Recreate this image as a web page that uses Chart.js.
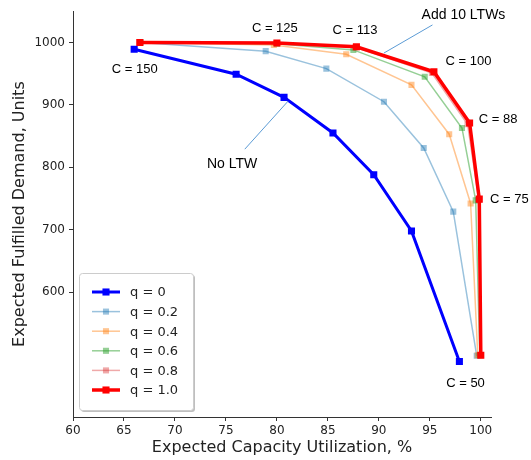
<!DOCTYPE html>
<html>
<head>
<meta charset="utf-8">
<script src="https://cdn.jsdelivr.net/npm/chart.js@4"></script>
<style>
  body { margin: 0; background: #fff; }
  #wrap { width: 531px; height: 460px; }
</style>
</head>
<body>
<div id="wrap"><canvas id="frontier"></canvas></div>
<script>
// Datos
const seriesNames = ['q = 0', 'q = 0.2', 'q = 0.4', 'q = 0.6', 'q = 0.8', 'q = 1.0'];

const q00X = [66, 76, 80.7, 85.5, 89.5, 93.2, 97.9];
const q00Y = [989, 949, 912, 855, 788, 698, 489];
const q02X = [66.6, 78.9, 84.85, 90.5, 94.4, 97.3, 99.6];
const q02Y = [1000, 986, 958, 905, 831, 729, 498];
const q04X = [66.6, 79.7, 86.8, 93.2, 96.9, 99.0, 99.7];
const q04Y = [1000, 996, 981, 932, 853, 742, 499];
const q06X = [66.6, 80, 87.5, 94.5, 98.15, 99.5, 99.9];
const q06Y = [1000, 998, 988, 945, 863, 747, 499];
const q08X = [66.6, 80, 87.7, 95.2, 98.7, 99.8, 100];
const q08Y = [1000, 999, 992, 951, 869, 748, 499];
const q10X = [66.55, 80, 87.8, 95.4, 98.9, 99.85, 100];
const q10Y = [1000, 999, 993, 953, 871, 749, 499];

const xTicks = [60, 65, 70, 75, 80, 85, 90, 95, 100];
const yTicks = [600, 700, 800, 900, 1000];

// Textos de anotacion (en coordenadas de datos)
const notes = [
  { text: 'C = 150', x: 66.06, y: 956, size: 13 },
  { text: 'C = 125', x: 79.8, y: 1022, size: 13 },
  { text: 'C = 113', x: 87.65, y: 1019, size: 13 },
  { text: 'C = 100', x: 98.8, y: 969, size: 13 },
  { text: 'C = 88', x: 101.7, y: 877, size: 13 },
  { text: 'C = 75', x: 102.8, y: 749, size: 13 },
  { text: 'C = 50', x: 98.5, y: 454, size: 13 },
  { text: 'Add 10 LTWs', x: 98.3, y: 1044, size: 14 },
  { text: 'No LTW', x: 75.6, y: 805, size: 14 }
];
const leaders = [
  { x1: 95.26, y1: 1028, x2: 90.5, y2: 983 },
  { x1: 81.1, y1: 906, x2: 76.85, y2: 829 }
];

function pts(xs, ys) {
  return xs.map((x, i) => ({ x: x, y: ys[i] }));
}

function makeSet(i, xs, ys, color, width, radius, order) {
  return {
    label: seriesNames[i],
    data: pts(xs, ys),
    borderColor: color,
    backgroundColor: color,
    borderWidth: width,
    pointStyle: 'rect',
    pointRadius: radius,
    pointBorderWidth: 0,
    pointHoverRadius: radius,
    showLine: true,
    tension: 0,
    order: order
  };
}

// Leyenda dentro del area del grafico
const boxLegend = {
  id: 'boxLegend',
  afterDraw(chart) {
    const ctx = chart.ctx;
    const x0 = 79, y0 = 273, w = 114, h = 137;
    ctx.save();
    ctx.fillStyle = 'rgba(0,0,0,0.25)';
    ctx.beginPath();
    ctx.roundRect(x0 + 2, y0 + 2, w, h, 3);
    ctx.fill();
    ctx.fillStyle = '#fff';
    ctx.strokeStyle = '#cccccc';
    ctx.lineWidth = 1;
    ctx.beginPath();
    ctx.roundRect(x0 + 0.5, y0 + 0.5, w, h, 3);
    ctx.fill();
    ctx.stroke();
    ctx.font = '13px "DejaVu Sans"';
    ctx.textBaseline = 'middle';
    chart.data.datasets.forEach((ds, i) => {
      const y = 292 + i * 19.6;
      ctx.strokeStyle = ds.borderColor;
      ctx.lineWidth = ds.borderWidth;
      ctx.beginPath();
      ctx.moveTo(92, y);
      ctx.lineTo(120, y);
      ctx.stroke();
      const s = ds.pointRadius * Math.SQRT1_2;
      ctx.fillStyle = ds.backgroundColor;
      ctx.fillRect(106 - s, y - s, 2 * s, 2 * s);
      ctx.fillStyle = '#222';
      ctx.fillText(ds.label, 130, y + 1);
    });
    ctx.restore();
  }
};

const notesPlugin = {
  id: 'notesPlugin',
  afterDatasetsDraw(chart) {
    const ctx = chart.ctx;
    const xs = chart.scales.x, ys = chart.scales.y;
    ctx.save();
    ctx.strokeStyle = '#5b9bd5';
    ctx.lineWidth = 1;
    leaders.forEach(l => {
      ctx.beginPath();
      ctx.moveTo(xs.getPixelForValue(l.x1), ys.getPixelForValue(l.y1));
      ctx.lineTo(xs.getPixelForValue(l.x2), ys.getPixelForValue(l.y2));
      ctx.stroke();
    });
    ctx.fillStyle = '#000';
    ctx.textAlign = 'center';
    ctx.textBaseline = 'middle';
    notes.forEach(n => {
      ctx.font = n.size + 'px "Liberation Sans"';
      ctx.fillText(n.text, xs.getPixelForValue(n.x), ys.getPixelForValue(n.y));
    });
    ctx.restore();
  }
};

new Chart(document.getElementById('frontier'), {
  type: 'line',
  data: {
    datasets: [
      makeSet(0, q00X, q00Y, '#0000ff', 3, 5, 1),
      makeSet(1, q02X, q02Y, 'rgba(31,119,180,0.45)', 1.5, 4.3, 5),
      makeSet(2, q04X, q04Y, 'rgba(255,127,14,0.45)', 1.5, 4.3, 4),
      makeSet(3, q06X, q06Y, 'rgba(44,160,44,0.5)', 1.5, 4.3, 3),
      makeSet(4, q08X, q08Y, 'rgba(214,39,40,0.4)', 1.5, 4.3, 2),
      makeSet(5, q10X, q10Y, '#ff0000', 3.5, 5, 0)
    ]
  },
  options: {
    responsive: true,
    maintainAspectRatio: false,
    animation: false,
    layout: { padding: { top: 11, right: 40, left: 0, bottom: 0 } },
    plugins: {
      legend: { display: false },
      tooltip: { enabled: false }
    },
    scales: {
      x: {
        type: 'linear',
        min: 60,
        max: 101,
        afterBuildTicks: s => { s.ticks = xTicks.map(v => ({ value: v })); },
        afterFit: s => { s.height = 43; },
        grid: { display: true, drawOnChartArea: false, tickLength: 4, color: '#333' },
        border: { display: true, color: '#333', width: 1 },
        ticks: { color: '#222', padding: 3, maxRotation: 0, callback: v => String(v), font: { family: 'DejaVu Sans', size: 12 } },
        title: {
          display: true,
          text: 'Expected Capacity Utilization, %',
          color: '#222',
          padding: { top: 0, bottom: 3 },
          font: { family: 'DejaVu Sans', size: 16 }
        }
      },
      y: {
        min: 400,
        max: 1050,
        afterBuildTicks: s => { s.ticks = yTicks.map(v => ({ value: v })); },
        afterFit: s => { s.width = 73; },
        grid: { display: true, drawOnChartArea: false, tickLength: 4, color: '#333' },
        border: { display: true, color: '#333', width: 1 },
        ticks: { color: '#222', padding: 4, callback: v => String(v), font: { family: 'DejaVu Sans', size: 12 } },
        title: {
          display: true,
          text: 'Expected Fulfilled Demand, Units',
          color: '#222',
          padding: { top: 10, bottom: 0 },
          font: { family: 'DejaVu Sans', size: 16 }
        }
      }
    }
  },
  plugins: [notesPlugin, boxLegend]
});
</script>
</body>
</html>
